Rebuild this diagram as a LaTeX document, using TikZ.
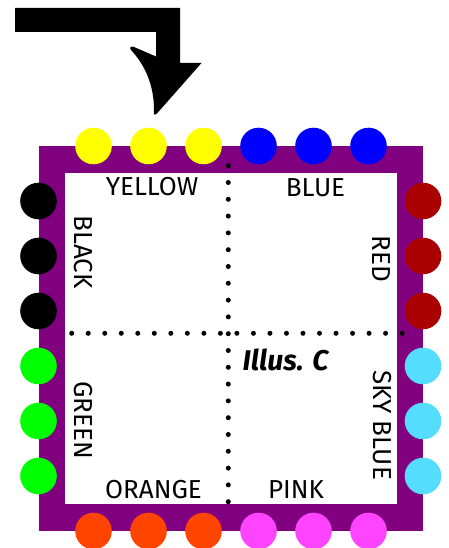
\documentclass[tikz,border=0pt]{standalone}
\usepackage{fontspec}
\setmainfont{Fira Sans}
\definecolor{frame}{HTML}{800080}
\definecolor{cyellow}{HTML}{FFFF00}
\definecolor{cblue}{HTML}{0000FF}
\definecolor{cred}{HTML}{AA0000}
\definecolor{cgreen}{HTML}{00FF00}
\definecolor{csky}{HTML}{55DDFF}
\definecolor{corange}{HTML}{FF4400}
\definecolor{cpink}{HTML}{FF44FF}
\begin{document}
\begin{tikzpicture}[x=1pt,y=-1pt,
  dot/.style={circle,inner sep=0pt,minimum size=36.6pt,fill=#1},
  lbl/.style={font=\fontsize{26}{26}\selectfont,inner sep=0pt,anchor=center},
  vlbl/.style={lbl,rotate=-90},
  dotline/.style={line width=5pt,line cap=round,dash pattern=on 0pt off #1}]
\useasboundingbox (0,0) rectangle (448,548);
% arrow
\fill[black] (15,8) -- (180,8) -- (180,63) -- (201.5,63) -- (156.5,114)
  .. controls (153,116) and (154,113) .. (154,110)
  .. controls (154,85) and (145,65) .. (131,50)
  .. controls (129,47) and (131,46) .. (134,47)
  -- (156,56.5) -- (156,32) -- (15,32) -- cycle;
% frame
\fill[frame] (39,146) rectangle (423,531);
\fill[white] (65,173) rectangle (397,504);
% dotted lines
\coordinate (vt) at (228.3,165.7);
\coordinate (vb) at (228.3,502);
\coordinate (hl) at (71.7,333.3);
\coordinate (hr) at (402.2,333.3);
\draw[dotline=16.8pt] (vt) -- (vb);
\draw[dotline=16.52pt] (hl) -- (hr);
% circles
\foreach \i/\c in {0/cyellow,1/cyellow,2/cyellow,3/cblue,4/cblue,5/cblue}
  \node[dot=\c] (t\i) at (93.5+55*\i,146) {};
\foreach \i/\c in {0/corange,1/corange,2/corange,3/cpink,4/cpink,5/cpink}
  \node[dot=\c] (b\i) at (93.5+55*\i,531) {};
\foreach \i/\c in {0/black,1/black,2/black,3/cgreen,4/cgreen,5/cgreen}
  \node[dot=\c] (l\i) at (38.5,201+55*\i) {};
\foreach \i/\c in {0/cred,1/cred,2/cred,3/csky,4/csky,5/csky}
  \node[dot=\c] (r\i) at (423,201+55*\i) {};
% labels
\node[lbl] (yellow) at (152,187) {YELLOW};
\node[lbl] (blue) at (315.5,188) {BLUE};
\node[lbl] (orange) at (153.5,490) {ORANGE};
\node[lbl] (pink) at (296,490) {PINK};
\node[vlbl] (black) at (83,252) {BLACK};
\node[vlbl] (green) at (83,420) {GREEN};
\node[vlbl] (red) at (381,259) {RED};
\node[vlbl] (sky) at (382,425) {SKY BLUE};
\node[lbl,font=\fontsize{28.5}{28.5}\selectfont\bfseries\itshape] (illus) at (285.5,360) {Illus. C};
\end{tikzpicture}
\end{document}
